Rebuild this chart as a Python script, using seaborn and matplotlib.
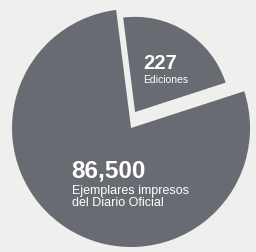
import matplotlib
matplotlib.use("Agg")
import matplotlib.pyplot as plt
import seaborn as sns

# Data (the drawing is not to scale: shares are read off the picture)
labels = ["Ediciones", "Ejemplares impresos\ndel Diario Oficial"]
values = ["227", "86,500"]
shares = [22, 78]

sns.set_style("white")
plt.rcParams["font.family"] = ["Liberation Sans", "DejaVu Sans"]

fig = plt.figure(figsize=(2.56, 2.53), dpi=100, facecolor="#efefed")
ax = fig.add_axes([0, 0, 1, 1])
ax.set_facecolor("#efefed")

gray = "#696b73"
wedges, _ = ax.pie(shares, colors=[gray, gray], startangle=18, counterclock=True,
                   radius=1.0, wedgeprops=dict(linewidth=0))

# the small slice is pulled out and drawn smaller
wedges[0].set_center((0.034, 0.134))
wedges[0].set_radius(0.80)

# Labels inside the slices
ax.text(0.10, 0.50, values[0], color="white", fontsize=14.5, fontweight="bold",
        ha="left", va="baseline")
ax.text(0.10, 0.45, labels[0], color="white", fontsize=7.5,
        ha="left", va="top")
ax.text(-0.50, -0.41, values[1], color="white", fontsize=17.5, fontweight="bold",
        ha="left", va="baseline")
ax.text(-0.50, -0.47, labels[1], color="white", fontsize=9,
        ha="left", va="top", linespacing=1.0)

ax.set_aspect("equal")
ax.set_xlim(-1.101, 1.050)
ax.set_ylim(-1.042, 1.084)
ax.axis("off")

fig.savefig("out.png", dpi=100, facecolor=fig.get_facecolor())
